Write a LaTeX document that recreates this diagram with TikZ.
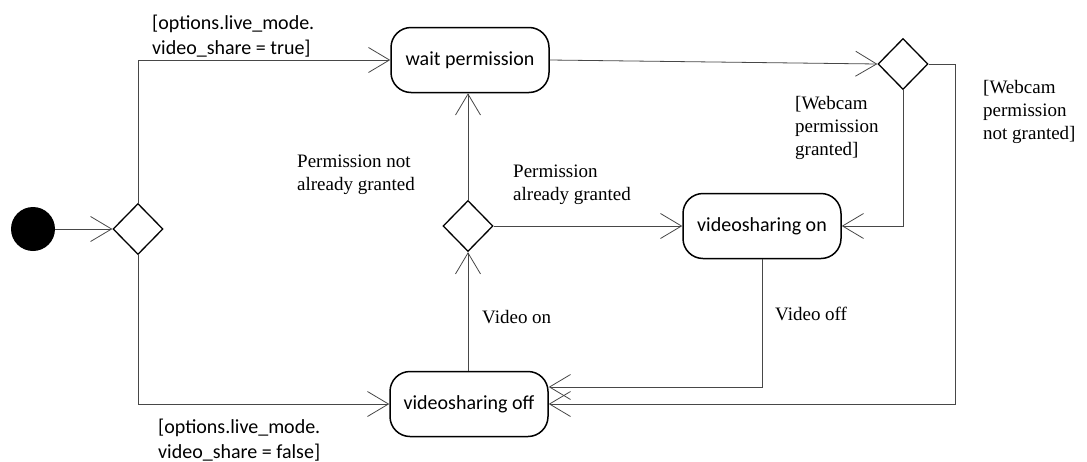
\documentclass[tikz,border=0pt]{standalone}
\usepackage{fontspec}
\setmainfont{Liberation Serif}
\newfontfamily\guardfont{Carlito}
\usetikzlibrary{arrows.meta,shapes.geometric}

\begin{document}
\begin{tikzpicture}[x=1pt,y=-1pt,
  state/.style={draw, line width=1.5pt, rounded corners=20pt, minimum width=158pt,
    minimum height=65pt, inner sep=0pt, font=\guardfont\fontsize{20}{24}\selectfont},
  choice/.style={draw, line width=1.3pt, diamond, minimum width=50pt,
    minimum height=51pt, inner sep=0pt},
  flow/.style={draw=black!72, line width=0.8pt,
    -{Straight Barb[length=21pt,width=25pt,line width=0.8pt]}},
  note/.style={font=\fontsize{19}{23}\selectfont, align=left, anchor=west, inner sep=0pt},
  guard/.style={font=\guardfont\fontsize{20}{24.5}\selectfont, align=left, anchor=west, inner sep=0pt}
]
\useasboundingbox (0,0) rectangle (1087,461);

% states and decisions
\node[circle, fill, minimum size=44pt, inner sep=0pt] (start) at (33,229) {};
\node[choice] (d1) at (138,229) {};
\node[state] (wait) at (470,60) {wait permission};
\node[choice] (d3) at (903,64) {};
\node[choice] (d2) at (468,226) {};
\node[state] (on) at (762,226) {videosharing on};
\node[state] (off) at (469,404) {videosharing off};
\coordinate (rt) at (955,404);

% transitions
\draw[flow] (start) -- (d1);
\draw[flow] (d1.north) |- (wait.west);
\draw[flow] (d1.south) |- (off.west);
\draw[flow] (wait.east) -- (d3.west);
\draw[flow] (d3.south) |- (on.east);
\draw[flow] (d3.east) -| (rt) -- (off.east);
\draw[flow] (d2.north) -- (d2.north |- wait.south);
\draw[flow] (d2.east) -- (on.west);
\draw[flow] (off.north -| d2.south) -- (d2.south);
\draw[flow] (on.south) |- ([yshift=17pt]off.east);

% guards and labels
\node[guard] (g1) at (152,36) {[options.live\_mode.\\video\_share = true]};
\node[guard] (g2) at (158,440) {[options.live\_mode.\\video\_share = false]};
\node[note] (l1) at (297,175) {Permission not\\already granted};
\node[note] (l2) at (513,185) {Permission\\already granted};
\node[note] (l3) at (795,128) {[Webcam\\permission\\granted]};
\node[note] (l4) at (983,112) {[Webcam\\permission\\not granted]};
\node[note] (l5) at (482,317) {Video on};
\node[note] (l6) at (775,314) {Video off};
\end{tikzpicture}
\end{document}
